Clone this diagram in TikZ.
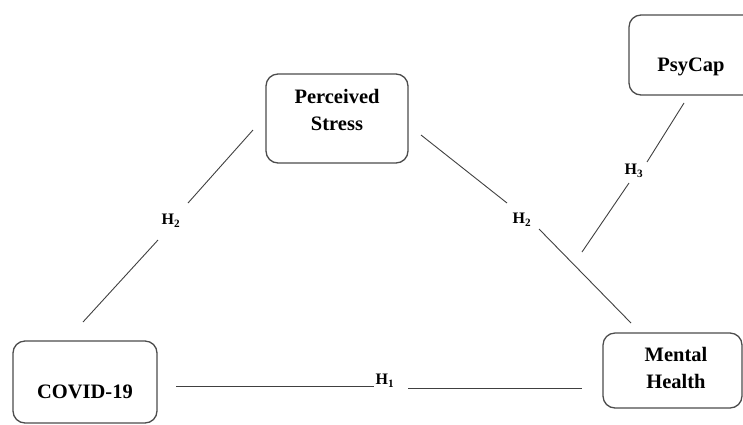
\documentclass[tikz,border=0pt]{standalone}
\usepackage{fontspec}
\setmainfont{Liberation Serif}
\begin{document}
\begin{tikzpicture}[x=1pt,y=-1pt,
  box/.style={draw=black!70, line width=1.3pt, rounded corners=12pt, inner sep=0pt},
  boxtext/.style={font=\fontsize{20.5}{27}\selectfont\bfseries, align=center, inner sep=0pt},
  link/.style={draw=black!75, line width=0.9pt},
  hyp/.style={font=\fontsize{16}{18}\selectfont\bfseries, inner sep=1pt},
]
\useasboundingbox (0,0) rectangle (743,424);
\clip (0,0) rectangle (743,424);
% boxes
\node[box, minimum width=142pt, minimum height=89pt] (ps) at (337,118.5) {};
\node[box, minimum width=131pt, minimum height=80pt] (pc) at (694.5,55) {};
\node[box, minimum width=144pt, minimum height=82pt] (cv) at (85,382) {};
\node[box, minimum width=139pt, minimum height=75pt] (mh) at (672.5,370.5) {};
% box texts
\node[boxtext] (pst) at (337,110) {Perceived\\Stress};
\node[boxtext] (pct) at (691,67) {PsyCap};
\node[boxtext] (cvt) at (85,392) {COVID-19};
\node[boxtext] (mht) at (676,368) {Mental\\Health};
% hypothesis labels
\node[hyp] (h2a) at (171,221) {H\textsubscript{2}};
\node[hyp] (h2b) at (522,220) {H\textsubscript{2}};
\node[hyp] (h3) at (634,171) {H\textsubscript{3}};
\node[hyp] (h1) at (385,381) {H\textsubscript{1}};
% connector ends
\coordinate (p1) at (253,130); \coordinate (p2) at (188,203);
\coordinate (p3) at (158,240); \coordinate (p4) at (83,322);
\coordinate (q1) at (421,135); \coordinate (q2) at (507,203);
\coordinate (q3) at (539,229); \coordinate (q4) at (631,323);
\coordinate (r1) at (684,103); \coordinate (r2) at (647,162);
\coordinate (r3) at (629,183); \coordinate (r4) at (582,252);
\coordinate (s1) at (176,386); \coordinate (s2) at (374,386);
\coordinate (s3) at (408,388); \coordinate (s4) at (582,388);
% connectors
\draw[link] (p1) -- (p2);
\draw[link] (p3) -- (p4);
\draw[link] (q1) -- (q2);
\draw[link] (q3) -- (q4);
\draw[link] (r1) -- (r2);
\draw[link] (r3) -- (r4);
\draw[link] (s1) -- (s2);
\draw[link] (s3) -- (s4);
\end{tikzpicture}
\end{document}
